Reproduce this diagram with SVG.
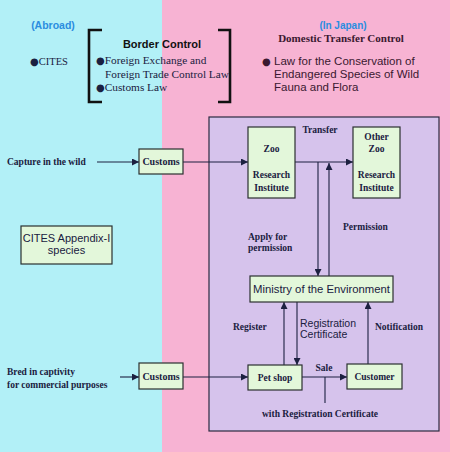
<svg xmlns="http://www.w3.org/2000/svg" width="450" height="452" viewBox="0 0 450 452">
<defs>
<marker id="ah" viewBox="0 0 10 10" refX="10" refY="5" markerWidth="7" markerHeight="7" markerUnits="userSpaceOnUse" orient="auto">
<path d="M0,0 L10,5 L0,10 Z" fill="#1c2040"/>
</marker>
<style>
.bg1{fill:#b2f0f7}
.bg2{fill:#f7b3d3}
.area{fill:#d6c3ec;stroke:#2a2a40;stroke-width:1.2}
.box{fill:#e3f7da;stroke:#2a3030;stroke-width:1.2}
.ln{stroke:#1c2040;stroke-width:1.1;fill:none}
.ar{stroke:#1c2040;stroke-width:1.1;fill:none;marker-end:url(#ah)}
.br{stroke:#111;stroke-width:2.6;fill:none}
.s{font-family:"Liberation Serif","Times New Roman",serif;fill:#1a2040;font-weight:bold}
.sn{font-family:"Liberation Serif","Times New Roman",serif;fill:#1a2040}
.a{font-family:"Liberation Sans",Arial,sans-serif;fill:#1a2040}
.ab{font-family:"Liberation Sans",Arial,sans-serif;font-weight:bold}
.m{text-anchor:middle}
.bu{font-family:"DejaVu Sans",sans-serif;font-size:10px}
.jp{fill:#3a1830}
</style>
</defs>
<rect class="bg1" x="0" y="0" width="162" height="452"/>
<rect class="bg2" x="162" y="0" width="288" height="452"/>
<rect class="area" x="209" y="117" width="230" height="314"/>

<g id="header-abroad">
<text class="ab m" x="53" y="29" font-size="10.5" fill="#2a8de0">(Abroad)</text>
<text class="sn" x="30" y="65" font-size="10.5"><tspan class="bu">●</tspan>CITES</text>
</g>
<g id="border-control">
<path class="br" d="M102,30 H89 V102 H102"/>
<path class="br" d="M218,30 H230 V102 H218"/>
<text class="ab m" x="162" y="48" font-size="11" fill="#111">Border Control</text>
<text class="sn" x="96" y="64" font-size="11.3"><tspan class="bu">●</tspan>Foreign Exchange and</text>
<text class="sn" x="105" y="78" font-size="11.3">Foreign Trade Control Law</text>
<text class="sn" x="96" y="91" font-size="11.3"><tspan class="bu">●</tspan>Customs  Law</text>
</g>
<g id="header-japan">
<text class="ab m" x="343" y="29" font-size="10" fill="#2a8de0">(In Japan)</text>
<text class="sn m jp" x="341" y="42" font-size="11" font-weight="bold" style="fill:#3a1830">Domestic Transfer Control</text>
<text class="bu jp" x="262" y="65" style="fill:#3a1830">●</text>
<text class="a" x="274" y="65" font-size="11.5" style="fill:#3a1830">Law for the Conservation of</text>
<text class="a" x="274" y="78" font-size="11.5" style="fill:#3a1830">Endangered Species of Wild</text>
<text class="a" x="274" y="91" font-size="11.5" style="fill:#3a1830">Fauna and Flora</text>
</g>

<g id="connectors">
<line class="ar" x1="97" y1="162" x2="139" y2="162"/>
<line class="ar" x1="183" y1="162" x2="248" y2="162"/>
<line class="ar" x1="295" y1="162" x2="353" y2="162"/>
<line class="ar" x1="318" y1="162" x2="318" y2="276"/>
<line class="ar" x1="329" y1="276" x2="329" y2="163"/>
<line class="ar" x1="284" y1="365" x2="284" y2="302"/>
<line class="ar" x1="297" y1="302" x2="297" y2="365"/>
<line class="ar" x1="368" y1="364" x2="368" y2="302"/>
<line class="ar" x1="120" y1="377" x2="139" y2="377"/>
<line class="ar" x1="183" y1="377" x2="248" y2="377"/>
<line class="ar" x1="302" y1="377" x2="347" y2="377"/>
<line class="ln" x1="325" y1="377" x2="325" y2="403"/>
</g>

<g id="labels">
<text class="s" x="7" y="165" font-size="9.5">Capture in the wild</text>
<text class="s" x="320" y="133" font-size="9.5" text-anchor="middle">Transfer</text>
<text class="s" x="248" y="240" font-size="9.5">Apply for</text>
<text class="s" x="248" y="251" font-size="9.5">permission</text>
<text class="s" x="343" y="230" font-size="9.5">Permission</text>
<text class="s" x="233" y="330" font-size="9.5">Register</text>
<text class="a" x="300" y="327" font-size="10.5">Registration</text>
<text class="a" x="300" y="338" font-size="10.5">Certificate</text>
<text class="s" x="375" y="330" font-size="9.5">Notification</text>
<text class="s" x="324" y="371" font-size="9.5" text-anchor="middle">Sale</text>
<text class="s" x="262" y="417" font-size="9.5">with Registration Certificate</text>
<text class="s" x="7" y="375" font-size="9.5">Bred in captivity</text>
<text class="s" x="7" y="388" font-size="9.5">for commercial purposes</text>
</g>

<g id="customs-1">
<rect class="box" x="139" y="149" width="44" height="25"/>
<text class="s m" x="161" y="165" font-size="10">Customs</text>
</g>
<g id="customs-2">
<rect class="box" x="139" y="363" width="44" height="26"/>
<text class="s m" x="161" y="380" font-size="10">Customs</text>
</g>
<g id="cites-appendix">
<rect class="box" x="21" y="226" width="91" height="38"/>
<text class="a m" x="66.5" y="242" font-size="11">CITES Appendix-I</text>
<text class="a m" x="66.5" y="254" font-size="11">species</text>
</g>
<g id="zoo">
<rect class="box" x="248" y="127" width="47" height="71"/>
<text class="s m" x="271.5" y="152" font-size="9.5">Zoo</text>
<text class="s m" x="271.5" y="178" font-size="9.5">Research</text>
<text class="s m" x="271.5" y="191" font-size="9.5">Institute</text>
</g>
<g id="other-zoo">
<rect class="box" x="353" y="127" width="47" height="71"/>
<text class="s m" x="376.5" y="140" font-size="9.5">Other</text>
<text class="s m" x="376.5" y="152" font-size="9.5">Zoo</text>
<text class="s m" x="376.5" y="178" font-size="9.5">Research</text>
<text class="s m" x="376.5" y="191" font-size="9.5">Institute</text>
</g>
<g id="ministry">
<rect class="box" x="250" y="276" width="143" height="26"/>
<text class="a m" x="321.5" y="293" font-size="11.3">Ministry of the Environment</text>
</g>
<g id="pet-shop">
<rect class="box" x="248" y="365" width="54" height="25"/>
<text class="s m" x="275" y="381" font-size="9.5">Pet shop</text>
</g>
<g id="customer">
<rect class="box" x="347" y="364" width="55" height="25"/>
<text class="s m" x="374.5" y="380" font-size="9.5">Customer</text>
</g>
</svg>
